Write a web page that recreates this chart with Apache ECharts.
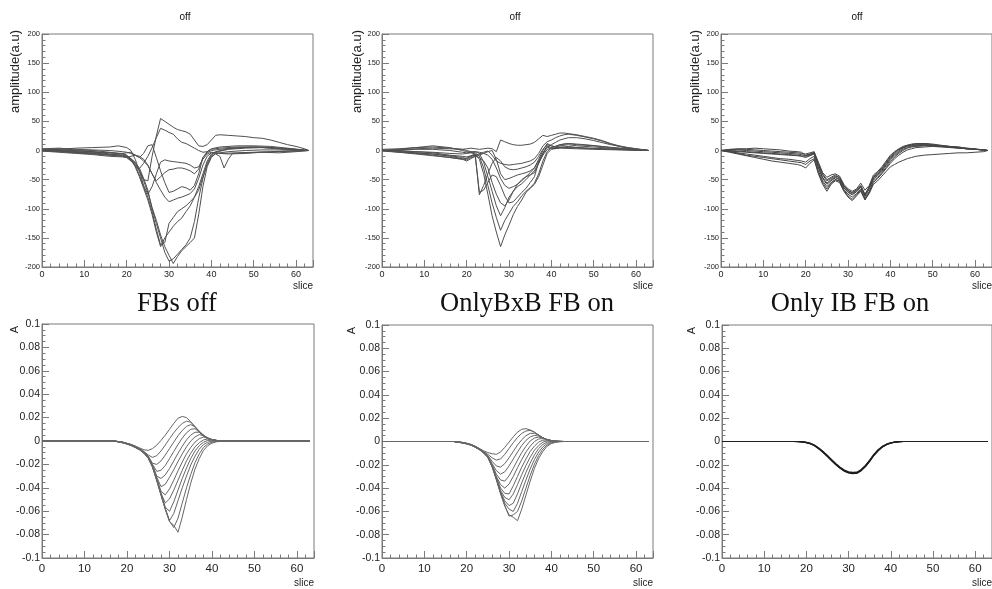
<!DOCTYPE html>
<html><head><meta charset="utf-8">
<script src="https://cdn.jsdelivr.net/npm/echarts@6/dist/echarts.min.js"></script>
<style>html,body{margin:0;padding:0;background:#fff}#c{width:992px;height:589px}</style>
</head><body><div id="c"></div>
<script>
// ---------- text ----------
const topTitle = 'off';
const panelTitles = ['FBs off', 'OnlyBxB FB on', 'Only IB FB on'];
const topYName = 'amplitude(a.u)';
const botYName = 'A';
const xName = 'slice';

// ---------- top row: raw traces, [slice, amplitude] ----------
const topOffCurves = [
 [[0,2],[4,3],[8,1],[12,0],[16,-3],[19,-6],[21,-14],[22,-20],[23,-35],[24,-50],[25,-52],[26,-10],[27,25],[28,55],[29,50],[30,45],[31,40],[32,36],[33,34],[34,32],[35,28],[36,18],[37,8],[38,7],[39,10],[40,18],[41,26],[42,27],[44,26],[46,25],[48,24],[50,22],[52,21],[54,18],[56,14],[58,10],[60,7],[62,3],[63,0]],
 [[0,0],[4,-2],[8,-4],[12,-6],[16,-8],[19,-10],[20,-12],[21,-18],[22,-25],[23,-31],[24,-22],[25,-10],[26,5],[27,22],[28,38],[29,35],[30,31],[31,28],[32,20],[33,14],[34,12],[35,8],[36,4],[37,0],[38,-3],[39,-2],[40,2],[42,4],[46,6],[50,6],[54,5],[58,3],[63,0]],
 [[0,1],[4,2],[8,4],[12,5],[16,6],[18,8],[20,5],[21,0],[22,-15],[23,-35],[24,-60],[25,-75],[26,-62],[27,-40],[28,-20],[29,-16],[30,-18],[31,-19],[32,-20],[33,-21],[34,-22],[35,-25],[36,-30],[37,-28],[38,-15],[39,-6],[40,-3],[42,-5],[44,-6],[48,-5],[52,-3],[56,-4],[60,-2],[63,0]],
 [[0,0],[4,-1],[8,-3],[12,-5],[16,-8],[19,-5],[20,-4],[21,-3],[22,-8],[23,-12],[24,-5],[25,8],[26,10],[27,-12],[28,-35],[29,-55],[30,-72],[31,-70],[32,-66],[33,-62],[34,-64],[35,-68],[36,-60],[37,-40],[38,-12],[39,-4],[40,0],[42,2],[46,5],[50,6],[54,4],[58,2],[63,0]],
 [[0,-1],[4,-3],[8,-5],[12,-7],[16,-10],[19,-11],[20,-12],[21,-10],[22,-8],[23,-10],[24,-15],[25,-25],[26,-40],[27,-55],[28,-68],[29,-80],[30,-88],[31,-85],[32,-82],[33,-80],[34,-77],[35,-74],[36,-66],[37,-48],[38,-25],[39,-10],[40,-4],[42,-5],[46,-4],[50,-3],[54,-2],[58,-1],[63,0]],
 [[0,0],[4,0],[8,-2],[12,-3],[16,-4],[19,-6],[20,-9],[21,-16],[22,-28],[23,-45],[24,-65],[25,-85],[26,-110],[27,-140],[28,-165],[29,-150],[30,-140],[31,-130],[32,-122],[33,-116],[34,-105],[35,-95],[36,-80],[37,-62],[38,-40],[39,-18],[40,-6],[41,-2],[44,3],[48,5],[52,6],[56,4],[60,2],[63,0]],
 [[0,1],[4,1],[8,-1],[12,-2],[16,-4],[19,-5],[20,-8],[21,-14],[22,-25],[23,-42],[24,-62],[25,-80],[26,-105],[27,-135],[28,-162],[29,-158],[30,-125],[31,-115],[32,-105],[33,-100],[34,-95],[35,-88],[36,-80],[37,-68],[38,-45],[39,-25],[40,-10],[41,-6],[42,-10],[43,-30],[44,-15],[45,-5],[48,-4],[52,-3],[56,-2],[63,0]],
 [[0,0],[4,1],[8,0],[12,-2],[16,-6],[19,-8],[20,-10],[21,-15],[22,-22],[23,-30],[24,-48],[25,-68],[26,-100],[27,-125],[28,-150],[29,-175],[30,-190],[31,-186],[32,-178],[33,-170],[34,-162],[35,-150],[36,-122],[37,-82],[38,-48],[39,-22],[40,-8],[41,-3],[44,2],[48,4],[52,5],[56,3],[60,1],[63,0]],
 [[0,-1],[4,-1],[8,-3],[12,-4],[16,-7],[19,-9],[20,-12],[21,-17],[22,-25],[23,-35],[24,-52],[25,-72],[26,-98],[27,-120],[28,-145],[29,-165],[30,-180],[31,-194],[32,-182],[33,-172],[34,-165],[35,-158],[36,-150],[37,-110],[38,-62],[39,-28],[40,-12],[41,-5],[44,-2],[48,0],[52,1],[56,1],[63,0]],
 [[0,3],[4,4],[8,2],[12,1],[16,0],[19,-2],[20,-3],[21,-5],[22,-8],[23,-12],[24,-18],[25,-26],[26,-40],[27,-52],[28,-45],[29,-38],[30,-33],[31,-32],[32,-30],[33,-30],[34,-32],[35,-35],[36,-40],[37,-32],[38,-12],[39,-2],[40,3],[42,6],[46,8],[50,8],[54,7],[58,4],[63,0]]
];

const topBxBCurves = [
 [[0,0],[4,1],[8,3],[12,4],[16,3],[19,2],[20,3],[21,4],[22,3],[23,2],[24,3],[25,4],[26,3],[27,-2],[28,18],[29,15],[30,12],[31,10],[32,9],[33,9],[34,10],[35,11],[36,14],[37,20],[38,26],[39,24],[40,26],[41,28],[42,30],[43,30],[44,29],[46,27],[48,24],[50,21],[52,17],[54,12],[56,8],[58,5],[60,3],[62,1],[63,0]],
 [[0,0],[4,-2],[8,-4],[12,-6],[16,-9],[19,-12],[20,-14],[21,-10],[22,-8],[23,-6],[24,-3],[25,-1],[26,-8],[27,-18],[28,-22],[29,-24],[30,-25],[31,-24],[32,-23],[33,-22],[34,-20],[35,-18],[36,-14],[37,-5],[38,8],[39,15],[40,18],[41,22],[42,25],[43,27],[44,28],[46,26],[48,23],[50,20],[52,16],[54,11],[56,7],[58,4],[60,2],[62,1],[63,0]],
 [[0,0],[4,-3],[8,-5],[12,-8],[16,-12],[19,-15],[20,-13],[21,-10],[22,-8],[23,-72],[24,-68],[25,-55],[26,-42],[27,-45],[28,-60],[29,-78],[30,-90],[31,-88],[32,-80],[33,-72],[34,-65],[35,-55],[36,-45],[37,-20],[38,-5],[39,8],[40,5],[41,3],[42,5],[44,7],[46,5],[50,3],[54,2],[58,1],[63,0]],
 [[0,1],[4,0],[8,-2],[12,-4],[16,-8],[19,-10],[20,-11],[21,-9],[22,-6],[23,-76],[24,-60],[25,-40],[26,-22],[27,-12],[28,-18],[29,-28],[30,-32],[31,-33],[32,-32],[33,-30],[34,-28],[35,-25],[36,-20],[37,-10],[38,2],[39,10],[40,8],[41,6],[42,8],[44,10],[46,8],[50,6],[54,4],[58,2],[63,0]],
 [[0,0],[4,-1],[8,-2],[12,-3],[16,-5],[19,-6],[20,-5],[21,-4],[22,-6],[23,-15],[24,-40],[25,-75],[26,-112],[27,-140],[28,-165],[29,-145],[30,-128],[31,-110],[32,-96],[33,-85],[34,-72],[35,-65],[36,-58],[37,-45],[38,-25],[39,-5],[40,2],[42,5],[44,6],[48,4],[52,3],[56,2],[60,1],[63,0]],
 [[0,2],[4,3],[8,5],[12,6],[16,4],[19,2],[20,0],[21,-2],[22,-4],[23,-10],[24,-30],[25,-60],[26,-90],[27,-115],[28,-137],[29,-120],[30,-108],[31,-96],[32,-88],[33,-78],[34,-70],[35,-64],[36,-56],[37,-40],[38,-18],[39,-2],[40,5],[42,10],[44,12],[48,10],[52,7],[56,4],[60,2],[63,0]],
 [[0,0],[4,2],[8,5],[12,8],[16,5],[19,0],[20,-2],[21,-3],[22,-2],[23,-5],[24,-20],[25,-45],[26,-70],[27,-95],[28,-112],[29,-98],[30,-80],[31,-70],[32,-62],[33,-57],[34,-50],[35,-42],[36,-35],[37,-22],[38,-8],[39,2],[40,4],[42,6],[44,5],[48,4],[52,3],[56,2],[63,0]],
 [[0,0],[4,-2],[8,-4],[12,-6],[16,-10],[19,-14],[20,-16],[21,-12],[22,-10],[23,-12],[24,-18],[25,-30],[26,-55],[27,-75],[28,-90],[29,-95],[30,-85],[31,-70],[32,-58],[33,-50],[34,-45],[35,-42],[36,-38],[37,-22],[38,-6],[39,6],[40,3],[42,4],[46,3],[50,2],[56,1],[63,0]],
 [[0,-1],[4,-3],[8,-6],[12,-9],[16,-12],[19,-15],[20,-18],[21,-14],[22,-10],[23,-8],[24,-5],[25,-2],[26,0],[27,-15],[28,-40],[29,-50],[30,-48],[31,-45],[32,-42],[33,-40],[34,-38],[35,-35],[36,-30],[37,-15],[38,0],[39,12],[40,8],[41,6],[42,10],[44,12],[46,10],[50,8],[54,5],[58,3],[63,0]],
 [[0,0],[4,1],[8,2],[12,2],[16,0],[19,-3],[20,-4],[21,-3],[22,-2],[23,-3],[24,-5],[25,-8],[26,-15],[27,-30],[28,-48],[29,-60],[30,-65],[31,-62],[32,-58],[33,-52],[34,-45],[35,-38],[36,-30],[37,-18],[38,-4],[39,6],[40,10],[41,14],[42,18],[44,22],[46,22],[48,20],[50,17],[54,10],[58,5],[63,0]]
];

const xsTopIB = [0,2,4,6,8,10,12,14,16,18,19,20,21,22,23,24,25,26,27,28,29,30,31,32,33,34,35,36,37,38,39,40,41,42,43,44,45,46,48,50,52,54,56,58,60,62,63];
const topIBCurves = [
 [0,2,3,3,4,3,2,1,-1,-2,-3,-8,-6,-3,-20,-38,-46,-42,-40,-44,-58,-66,-70,-66,-56,-68,-60,-42,-36,-28,-18,-8,-2,3,7,9,10,11,12,10,8,7,6,4,3,1,0],
 [0,1,1,0,-1,-2,-3,-4,-5,-6,-7,-9,-7,-4,-25,-42,-52,-48,-44,-46,-60,-69,-72,-68,-60,-75,-62,-46,-40,-32,-22,-12,-5,1,5,8,9,10,10,9,8,6,5,3,2,1,0],
 [0,-1,-2,-3,-4,-5,-6,-7,-8,-9,-10,-12,-9,-6,-30,-48,-58,-52,-47,-50,-64,-72,-76,-71,-63,-79,-66,-49,-43,-36,-26,-16,-9,-3,2,5,7,8,9,8,7,6,4,3,2,1,0],
 [0,-2,-4,-6,-8,-10,-12,-14,-15,-17,-18,-20,-14,-10,-35,-52,-62,-55,-50,-52,-67,-75,-80,-74,-66,-82,-70,-52,-46,-38,-29,-19,-11,-5,0,4,6,7,8,8,7,6,5,3,2,1,0],
 [0,-3,-6,-9,-12,-15,-18,-20,-22,-24,-26,-30,-22,-16,-40,-58,-70,-58,-52,-55,-70,-80,-86,-78,-70,-85,-72,-55,-48,-40,-31,-22,-14,-8,-3,1,3,5,6,7,6,5,4,3,2,1,0],
 [0,-2,-5,-8,-10,-12,-14,-16,-18,-20,-21,-24,-18,-14,-38,-55,-66,-56,-50,-53,-68,-78,-84,-76,-68,-84,-74,-58,-52,-44,-36,-28,-24,-20,-17,-14,-12,-10,-8,-7,-6,-5,-4,-4,-3,-2,0],
 [0,1,2,2,1,0,-1,-2,-3,-4,-5,-6,-4,-2,-22,-40,-50,-46,-42,-47,-61,-68,-73,-68,-61,-76,-63,-45,-38,-30,-20,-10,-3,2,6,9,11,12,12,11,9,7,6,4,2,1,0],
 [0,0,-1,-2,-3,-4,-5,-6,-7,-8,-9,-10,-8,-5,-28,-46,-56,-50,-46,-49,-63,-71,-75,-70,-62,-77,-64,-47,-41,-34,-24,-14,-7,-1,4,7,8,9,10,9,8,7,5,3,2,1,0]
];

// ---------- bottom row: fitted shapes, A vs slice ----------
const xsBottom = [0,16,17,18,19,20,21,22,23,24,25,26,27,28,29,30,31,32,33,34,35,36,37,38,39,40,41,42,43,44,45,46,63];
const botOffCurves = [
 [0,0,0,-.0005,-.001,-.002,-.003,-.0045,-.006,-.0075,-.008,-.0065,-.0035,.0005,.005,.01,.015,.0195,.021,.02,.0165,.012,.0075,.004,.002,.001,.0005,.0002,0,0,0,0,0],
 [0,0,0,-.0005,-.001,-.002,-.003,-.0045,-.0065,-.009,-.012,-.014,-.0125,-.0085,-.0035,.002,.007,.0115,.015,.017,.016,.0125,.008,.0045,.002,.001,.0005,.0002,0,0,0,0,0],
 [0,0,0,-.0005,-.001,-.002,-.0032,-.0047,-.0067,-.0092,-.013,-.019,-.02,-.017,-.012,-.0065,-.001,.0045,.009,.0125,.014,.012,.0085,.005,.0025,.0012,.0005,.0002,0,0,0,0,0],
 [0,0,0,-.0006,-.0012,-.0022,-.0033,-.0048,-.0068,-.0095,-.0135,-.02,-.026,-.025,-.021,-.015,-.009,-.003,.0025,.007,.01,.0105,.008,.005,.0025,.0012,.0005,.0002,.0001,0,0,0,0],
 [0,0,0,-.0006,-.0012,-.0022,-.0034,-.005,-.007,-.0097,-.0135,-.0205,-.03,-.032,-.029,-.0235,-.017,-.0105,-.0045,.001,.005,.0075,.0075,.005,.0025,.0012,.0005,.0002,.0001,0,0,0,0],
 [0,0,0,-.0006,-.0013,-.0023,-.0035,-.005,-.007,-.0098,-.0138,-.021,-.031,-.039,-.037,-.031,-.0245,-.0175,-.011,-.005,0,.0035,.0055,.0045,.0025,.0012,.0005,.0002,.0001,0,0,0,0],
 [0,0,0,-.0007,-.0013,-.0024,-.0036,-.0052,-.0072,-.01,-.014,-.021,-.032,-.043,-.046,-.041,-.0335,-.0255,-.018,-.011,-.0055,-.001,.002,.0034,.0025,.0012,.0005,.0002,.0001,0,0,0,0],
 [0,0,0,-.0007,-.0014,-.0024,-.0037,-.0053,-.0073,-.01,-.0142,-.0215,-.0325,-.0445,-.053,-.0495,-.042,-.0335,-.025,-.017,-.0105,-.005,-.0015,.001,.0017,.0012,.0005,.0002,.0001,0,0,0,0],
 [0,0,0,-.0007,-.0014,-.0025,-.0038,-.0054,-.0074,-.0102,-.0144,-.0218,-.033,-.045,-.0565,-.06,-.052,-.042,-.032,-.023,-.015,-.0085,-.004,-.001,.0005,.0006,.0003,.0001,0,0,0,0,0],
 [0,0,0,-.0008,-.0015,-.0025,-.0038,-.0055,-.0075,-.0103,-.0145,-.022,-.0333,-.0455,-.0575,-.068,-.062,-.051,-.04,-.03,-.0205,-.013,-.007,-.003,-.001,-.0002,0,0,0,0,0,0,0],
 [0,0,0,-.0008,-.0015,-.0026,-.0039,-.0056,-.0076,-.0104,-.0146,-.0222,-.0336,-.046,-.058,-.0685,-.074,-.066,-.053,-.04,-.0285,-.0185,-.011,-.0055,-.0025,-.001,-.0004,-.0001,0,0,0,0,0],
 [0,0,0,-.0008,-.0016,-.0026,-.004,-.0057,-.0077,-.0105,-.0148,-.0225,-.034,-.0465,-.0585,-.069,-.072,-.078,-.065,-.05,-.036,-.024,-.015,-.008,-.004,-.0018,-.0007,-.0003,-.0001,0,0,0,0]
];
const botBxBCurves = [
 [0,0,0,-.0003,-.0008,-.0015,-.0025,-.004,-.006,-.008,-.0095,-.0105,-.011,-.009,-.005,-.0005,.004,.008,.0105,.011,.01,.008,.0055,.0032,.0016,.0008,.0003,.0001,0,0,0,0,0],
 [0,0,0,-.0003,-.0008,-.0015,-.0026,-.0041,-.0062,-.0085,-.011,-.014,-.016,-.015,-.011,-.006,-.001,.0035,.007,.009,.0095,.008,.0055,.0032,.0016,.0008,.0003,.0001,0,0,0,0,0],
 [0,0,0,-.0004,-.0009,-.0016,-.0026,-.0042,-.0063,-.009,-.012,-.017,-.021,-.022,-.019,-.014,-.0085,-.003,.0015,.005,.007,.007,.0055,.0032,.0016,.0008,.0003,.0001,0,0,0,0,0],
 [0,0,0,-.0004,-.0009,-.0017,-.0027,-.0043,-.0064,-.009,-.0125,-.019,-.025,-.028,-.026,-.021,-.015,-.009,-.0035,.001,.004,.0052,.0048,.0032,.0016,.0008,.0003,.0001,0,0,0,0,0],
 [0,0,0,-.0004,-.001,-.0017,-.0028,-.0044,-.0065,-.0092,-.013,-.02,-.028,-.033,-.034,-.0295,-.023,-.016,-.0095,-.004,.0005,.003,.0038,.003,.0016,.0008,.0003,.0001,0,0,0,0,0],
 [0,0,0,-.0005,-.001,-.0018,-.0028,-.0045,-.0066,-.0093,-.013,-.0205,-.03,-.037,-.04,-.0365,-.03,-.0225,-.0155,-.009,-.004,0,.0022,.0025,.0015,.0008,.0003,.0001,0,0,0,0,0],
 [0,0,0,-.0005,-.001,-.0018,-.0029,-.0046,-.0067,-.0094,-.0132,-.021,-.031,-.04,-.0445,-.045,-.038,-.03,-.022,-.015,-.0085,-.004,-.0005,.0012,.0012,.0006,.0002,.0001,0,0,0,0,0],
 [0,0,0,-.0005,-.0011,-.0019,-.0029,-.0046,-.0068,-.0095,-.0133,-.021,-.031,-.042,-.048,-.05,-.045,-.037,-.0285,-.0205,-.0135,-.0075,-.0035,-.0005,.0005,.0004,.0001,0,0,0,0,0,0],
 [0,0,0,-.0006,-.0011,-.0019,-.003,-.0047,-.0068,-.0096,-.0134,-.0212,-.032,-.043,-.051,-.055,-.053,-.045,-.0355,-.0265,-.0185,-.0115,-.006,-.0025,-.0005,0,0,0,0,0,0,0,0],
 [0,0,0,-.0006,-.0012,-.002,-.003,-.0048,-.0069,-.0097,-.0135,-.0214,-.0322,-.044,-.053,-.058,-.06,-.053,-.043,-.033,-.0235,-.0155,-.009,-.0045,-.0018,-.0005,-.0001,0,0,0,0,0,0],
 [0,0,0,-.0006,-.0012,-.002,-.0031,-.0048,-.007,-.0098,-.0136,-.0215,-.0325,-.0445,-.055,-.064,-.063,-.06,-.051,-.04,-.029,-.0195,-.012,-.0065,-.003,-.0012,-.0004,-.0001,0,0,0,0,0],
 [0,0,0,-.0007,-.0013,-.0021,-.0032,-.0049,-.0071,-.0099,-.0137,-.0216,-.0327,-.045,-.0555,-.063,-.065,-.068,-.058,-.046,-.034,-.023,-.0145,-.0085,-.004,-.0018,-.0007,-.0002,0,0,0,0,0]
];
const botIBCurves = [
 [0,0,0,0,-.0003,-.0008,-.0018,-.0035,-.006,-.009,-.0125,-.016,-.0195,-.0225,-.025,-.0265,-.027,-.0268,-.0245,-.021,-.0165,-.0115,-.0075,-.0045,-.0025,-.0012,-.0006,-.0002,0,0,0,0,0],
 [0,0,0,-.0001,-.0004,-.001,-.002,-.0038,-.0064,-.0095,-.013,-.0165,-.02,-.023,-.0255,-.027,-.0275,-.0272,-.025,-.0215,-.017,-.012,-.008,-.0048,-.0027,-.0013,-.0006,-.0002,0,0,0,0,0],
 [0,0,0,0,-.0002,-.0007,-.0016,-.0032,-.0057,-.0087,-.012,-.0155,-.019,-.022,-.0245,-.026,-.0265,-.0263,-.024,-.0205,-.016,-.011,-.007,-.0042,-.0023,-.0011,-.0005,-.0002,0,0,0,0,0],
 [0,0,0,-.0001,-.0004,-.0009,-.0019,-.0036,-.0062,-.0092,-.0128,-.0163,-.0198,-.0228,-.0252,-.0268,-.0272,-.027,-.0248,-.0213,-.0168,-.0118,-.0078,-.0046,-.0026,-.0013,-.0006,-.0002,0,0,0,0,0]
];

// ---------- layout / style ----------
const FONT = "'Liberation Sans', Arial, sans-serif";
const SERIF = "'Liberation Serif', 'Times New Roman', serif";
const AX = '#7a7a7a';
const gridBoxes = [
 {left:42, top:34, width:271, height:233},
 {left:382, top:34, width:271, height:233},
 {left:721, top:34, width:271, height:233},
 {left:42, top:324, width:272, height:234},
 {left:382, top:325, width:271, height:233},
 {left:722, top:325, width:270, height:233}
];

function xAx(i, bottom) {
  return {
    gridIndex: i, type: 'value', min: 0, max: 64, interval: 10,
    axisLine: {show: true, onZero: false, lineStyle: {color: AX, width: 1}},
    axisTick: {show: true, inside: true, length: 7, lineStyle: {color: AX}},
    minorTick: {show: true, splitNumber: 5, length: 3.5, lineStyle: {color: AX}},
    splitLine: {show: false}, minorSplitLine: {show: false},
    axisLabel: {show: true, margin: bottom ? 5 : 3, fontSize: bottom ? 11.5 : 9, color: '#222', fontFamily: FONT, showMaxLabel: false},
    name: xName, nameLocation: 'end', nameGap: 0,
    nameTextStyle: {align: 'right', verticalAlign: 'top', padding: [bottom ? 20 : 14, 0, 0, 0], fontSize: 10, color: '#222', fontFamily: FONT}
  };
}
function yAx(i, bottom) {
  return {
    gridIndex: i, type: 'value',
    min: bottom ? -0.1 : -200, max: bottom ? 0.1 : 200, interval: bottom ? 0.02 : 50,
    axisLine: {show: true, onZero: false, lineStyle: {color: AX, width: 1}},
    axisTick: {show: true, inside: true, length: 7, lineStyle: {color: AX}},
    minorTick: {show: true, splitNumber: bottom ? 4 : 5, length: 3.5, lineStyle: {color: AX}},
    splitLine: {show: false}, minorSplitLine: {show: false},
    axisLabel: {show: true, margin: 2, fontSize: bottom ? 10.5 : 7.5, color: '#222', fontFamily: FONT}
  };
}

const series = [];
function addPairs(curves, gi, color, width) {
  curves.forEach(c => series.push({
    type: 'line', xAxisIndex: gi, yAxisIndex: gi, data: c, symbol: 'none', showSymbol: false,
    lineStyle: {color: color, width: width}, silent: true, animation: false, clip: true
  }));
}
function addYs(xs, curves, gi, color, width) {
  addPairs(curves.map(ys => ys.map((y, k) => [xs[k], y])), gi, color, width);
}
addPairs(topOffCurves, 0, '#505050', 1);
addPairs(topBxBCurves, 1, '#505050', 1);
addYs(xsTopIB, topIBCurves, 2, '#454545', 1);
addYs(xsBottom, botOffCurves, 3, '#666666', 1);
addYs(xsBottom, botBxBCurves, 4, '#666666', 1);
addYs(xsBottom, botIBCurves, 5, '#1e1e1e', 1.2);

function txt(x, y, text, size, family) {
  return {
    type: 'text', x: x, y: y, silent: true,
    style: {text: text, fontSize: size, fontFamily: family, fill: '#111',
      align: 'center', verticalAlign: 'middle', textAlign: 'center', textVerticalAlign: 'middle'}
  };
}
function vtxt(x, y, text, size) {
  return {type: 'text', x: x, y: y, rotation: Math.PI / 2, silent: true,
    style: {text: text, fontSize: size, fontFamily: FONT, fill: '#222',
      align: 'right', verticalAlign: 'middle', textAlign: 'right', textVerticalAlign: 'middle'}};
}
const graphics = [
  txt(185, 17, topTitle, 10, FONT), txt(515, 17, topTitle, 10, FONT), txt(857, 17, topTitle, 10, FONT),
  txt(177, 304, panelTitles[0], 26.5, SERIF), txt(527, 304, panelTitles[1], 26.5, SERIF), txt(850, 304, panelTitles[2], 26.5, SERIF),
  vtxt(15, 30, topYName, 13), vtxt(357, 30, topYName, 13), vtxt(695, 30, topYName, 13),
  vtxt(15, 326, botYName, 11), vtxt(352, 327, botYName, 11), vtxt(692, 327, botYName, 11)
];

const chart = echarts.init(document.getElementById('c'), null, {renderer: 'canvas'});
chart.setOption({
  animation: false,
  backgroundColor: '#ffffff',
  grid: gridBoxes.map(g => Object.assign({show: true, borderColor: AX, borderWidth: 1, backgroundColor: 'transparent', containLabel: false, outerBoundsMode: 'none'}, g)),
  xAxis: gridBoxes.map((g, i) => xAx(i, i >= 3)),
  yAxis: gridBoxes.map((g, i) => yAx(i, i >= 3)),
  series: series,
  graphic: graphics
});
</script>
</body></html>
